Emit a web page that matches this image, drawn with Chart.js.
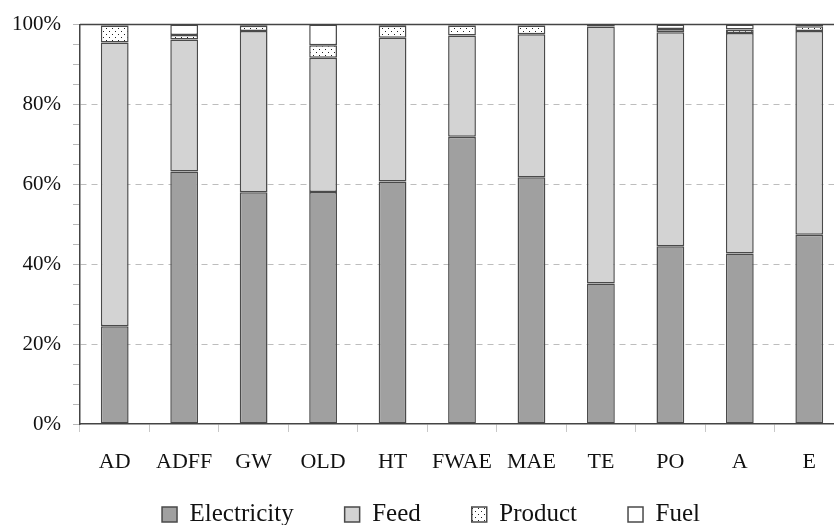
<!DOCTYPE html>
<html>
<head>
<meta charset="utf-8">
<script src="https://cdn.jsdelivr.net/npm/chart.js@4"></script>
<style>
  html, body { margin: 0; padding: 0; background: #fff; overflow: hidden; }
  #wrap { width: 834px; height: 525px; overflow: hidden; }
</style>
</head>
<body>
<div id="wrap"><canvas id="chart" width="868" height="537"></canvas></div>
<script>
const categories = ['AD', 'ADFF', 'GW', 'OLD', 'HT', 'FWAE', 'MAE', 'TE', 'PO', 'A', 'E'];
const electricity = [24.5, 63.25, 58, 58.1, 60.7, 71.9, 61.8, 35.2, 44.5, 42.7, 47.4];
const feed = [71, 33, 40.4, 33.6, 36, 25.4, 35.8, 64.3, 53.6, 55.2, 51];
const product = [4.3, 1.15, 1.3, 3.1, 3, 2.5, 2.2, 0.4, 0.8, 0.85, 1.2];
const fuel = [0.2, 2.6, 0.3, 5.2, 0.3, 0.2, 0.2, 0.1, 1.1, 1.25, 0.4];
const yTickLabels = [0, 20, 40, 60, 80, 100];

Chart.defaults.font.family = "'Liberation Serif', serif";
Chart.defaults.color = '#111';

// dotted fill for the "Product" segments
function dotPattern() {
    const c = document.createElement('canvas');
    c.width = 6; c.height = 6;
    const g = c.getContext('2d');
    g.fillStyle = '#fff';
    g.fillRect(0, 0, 6, 6);
    g.fillStyle = '#222';
    g.fillRect(1, 1, 1, 1);
    g.fillRect(4, 4, 1, 1);
    return g.createPattern(c, 'repeat');
}
const ctx = document.getElementById('chart').getContext('2d');
const dots = dotPattern();

// top / right frame lines of the plot box
const frame = {
    id: 'frame',
    afterDraw(chart) {
        const { ctx, chartArea: a } = chart;
        ctx.save();
        ctx.strokeStyle = '#444';
        ctx.lineWidth = 1.5;
        ctx.beginPath();
        ctx.moveTo(a.left, a.top);
        ctx.lineTo(a.right, a.top);
        ctx.lineTo(a.right, a.bottom);
        ctx.stroke();
        ctx.restore();
    }
};

const barStyle = { borderColor: '#4a4a4a', borderWidth: 1.5, borderSkipped: false, barPercentage: 0.4, categoryPercentage: 1 };

new Chart(ctx, {
    type: 'bar',
    data: {
        labels: categories,
        datasets: [
            { label: 'Electricity', data: electricity, backgroundColor: '#a0a0a0', ...barStyle },
            { label: 'Feed', data: feed, backgroundColor: '#d3d3d3', ...barStyle },
            { label: 'Product', data: product, backgroundColor: dots, ...barStyle },
            { label: 'Fuel', data: fuel, backgroundColor: '#ffffff', ...barStyle }
        ]
    },
    options: {
        responsive: false,
        animation: false,
        layout: { padding: { top: 24, right: 6, left: 0, bottom: 0 } },
        plugins: {
            tooltip: { enabled: false },
            legend: {
                position: 'bottom',
                labels: {
                    boxWidth: 15,
                    boxHeight: 15,
                    padding: 51,
                    font: { size: 25 },
                    color: '#111'
                }
            }
        },
        scales: {
            x: {
                stacked: true,
                // labels sit below the short axis box, so draw them unclipped (mirror) with a negative offset
                afterFit: s => { s.height = 27; },
                grid: { offset: true, drawOnChartArea: false, tickLength: 8, tickColor: '#c8c8c8', tickWidth: 1 },
                border: { color: '#444', width: 1.5 },
                ticks: { mirror: true, padding: -51, font: { size: 22 }, color: '#111' }
            },
            y: {
                stacked: true,
                min: 0,
                max: 100,
                afterFit: s => { s.width = 80; },
                grid: {
                    color: c => (c.tick && c.tick.value > 0 && c.tick.value < 100 && c.tick.value % 20 === 0) ? '#bdbdbd' : 'rgba(0,0,0,0)',
                    tickColor: '#b8b8b8',
                    tickLength: 7,
                    tickWidth: 1
                },
                border: { color: '#444', width: 1.5, dash: [6, 5] },
                ticks: {
                    stepSize: 5,
                    autoSkip: false,
                    padding: 12,
                    font: { size: 21 },
                    color: '#111',
                    callback: v => yTickLabels.includes(v) ? v + '%' : ''
                }
            },
            // empty spacer on the right (off-screen), keeps the legend centred where the original has it
            yRight: {
                position: 'right',
                display: true,
                grid: { display: false },
                border: { display: false },
                ticks: { display: false },
                afterFit: s => { s.width = 18; }
            }
        }
    },
    plugins: [frame]
});
</script>
</body>
</html>
